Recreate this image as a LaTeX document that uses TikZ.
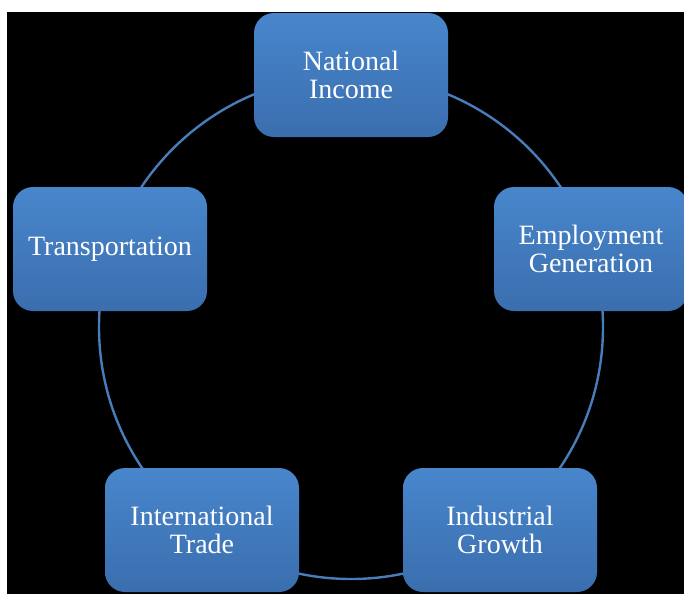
\documentclass[tikz,border=0pt]{standalone}
\usepackage{fontspec}
\setmainfont{Liberation Serif}
\definecolor{boxtop}{RGB}{72,134,204}
\definecolor{boxbottom}{RGB}{58,110,174}
\definecolor{ringblue}{RGB}{72,124,186}
\begin{document}
\begin{tikzpicture}[x=0.5pt, y=-0.5pt,
    sector/.style={rounded corners=10pt, minimum width=97pt, minimum height=62pt,
      top color=boxtop, bottom color=boxbottom, text=white, align=center,
      font=\fontsize{14}{14}\selectfont, inner sep=0pt}]
  % page and black panel
  \fill[white] (0,0) rectangle (684,594);
  \useasboundingbox (0,0) rectangle (684,594);
  \fill[black] (7,12) rectangle (684,594);

  % the ring behind the boxes
  \coordinate (hub) at (351,327);
  \draw[ringblue, line width=1.2pt] (hub) circle (126pt);

  % five boxes on the ring
  \foreach \n/\x/\y/\t in {ni/351/75/{National\\Income},
                          eg/591/249/{Employment\\Generation},
                          ig/500/530/{Industrial\\Growth},
                          it/202/530/{International\\Trade},
                          tr/110/249/{Transportation}}{
    \node[sector] (\n) at (\x,\y) {\t};
  }
\end{tikzpicture}
\end{document}
